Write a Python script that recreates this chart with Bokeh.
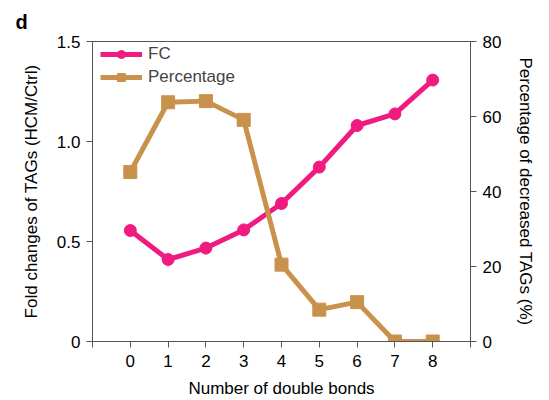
from bokeh.plotting import figure
from bokeh.models import Range1d, LinearAxis, FixedTicker, Legend, LegendItem, Title
from bokeh.embed import file_html
from bokeh.resources import INLINE

double_bonds = [0, 1, 2, 3, 4, 5, 6, 7, 8]
fc = [0.555, 0.41, 0.467, 0.558, 0.69, 0.872, 1.08, 1.138, 1.307]
percentage = [45.2, 63.8, 64.1, 59.1, 20.5, 8.5, 10.5, 0.0, 0.0]
x_ticks = [-1, 0, 1, 2, 3, 4, 5, 6, 7, 8, 9]
left_ticks = [0, 0.5, 1.0, 1.5]
left_labels = {0: "0", 0.5: "0.5", 1: "1.0", 1.5: "1.5"}
right_ticks = [0, 20, 40, 60, 80]

PINK = "#F01B80"
TAN = "#C8924C"
FONT = "Liberation Sans"
FS = "17px"
AX = "#555555"

p = figure(width=549, height=400, output_backend="svg", toolbar_location=None,
           x_range=Range1d(-1, 9), y_range=Range1d(0, 1.5),
           min_border_left=92, min_border_right=79, min_border_top=41, min_border_bottom=59)
p.grid.visible = False
p.outline_line_color = AX
p.outline_line_width = 1
p.background_fill_color = "white"
p.border_fill_color = "white"

p.extra_y_ranges = {"pct": Range1d(0, 80)}

# FC line
l1 = p.line(double_bonds, fc, line_color=PINK, line_width=5)
c1 = p.scatter(double_bonds, fc, marker="circle", size=12, fill_color=PINK, line_color=PINK)
# Percentage line
l2 = p.line(double_bonds, percentage, line_color=TAN, line_width=5, y_range_name="pct")
s2 = p.scatter(double_bonds, percentage, marker="square", size=13, fill_color=TAN, line_color=TAN,
               y_range_name="pct")

# Axes styling
for ax in [p.xaxis[0], p.yaxis[0]]:
    ax.axis_line_color = AX
    ax.major_tick_line_color = AX
    ax.minor_tick_line_color = None
    ax.major_tick_in = 0
    ax.major_tick_out = 6
    ax.major_label_text_font = FONT
    ax.major_label_text_font_size = FS
    ax.major_label_text_color = "black"
    ax.axis_label_text_font = FONT
    ax.axis_label_text_font_size = FS
    ax.axis_label_text_font_style = "normal"
    ax.axis_label_text_color = "black"

p.xaxis[0].ticker = FixedTicker(ticks=x_ticks)
p.xaxis[0].major_label_overrides = {-1: "", 9: ""}
p.xaxis[0].axis_label = "Number of double bonds"
p.xaxis[0].major_label_standoff = 7
p.xaxis[0].axis_label_standoff = 9

p.yaxis[0].ticker = FixedTicker(ticks=left_ticks)
p.yaxis[0].major_label_overrides = left_labels
p.yaxis[0].axis_label = "Fold changes of TAGs (HCM/Ctrl)"
p.yaxis[0].major_label_standoff = 6
p.yaxis[0].axis_label_standoff = 13

ra = LinearAxis(y_range_name="pct", ticker=FixedTicker(ticks=right_ticks),
                axis_label="Percentage of decreased TAGs (%)")
ra.axis_line_color = AX
ra.major_tick_line_color = AX
ra.minor_tick_line_color = None
ra.major_tick_in = 0
ra.major_tick_out = 6
ra.major_label_text_font = FONT
ra.major_label_text_font_size = FS
ra.major_label_text_color = "black"
ra.axis_label_text_font = FONT
ra.axis_label_text_font_size = FS
ra.axis_label_text_font_style = "normal"
ra.axis_label_text_color = "black"
ra.major_label_standoff = 6
ra.axis_label_standoff = 12
p.add_layout(ra, "right")

legend = Legend(items=[LegendItem(label="FC", renderers=[l1, c1]),
                       LegendItem(label="Percentage", renderers=[l2, s2])],
                location=(8, 254), border_line_color=None, background_fill_alpha=0,
                label_text_font=FONT, label_text_font_size=FS,
                glyph_width=42, glyph_height=20, spacing=3, padding=2, margin=0,
                label_standoff=6)
p.add_layout(legend)

title = Title(text="d", align="left", offset=-77, text_font=FONT, text_font_size="20px",
              text_font_style="bold", text_color="black", standoff=17)
p.add_layout(title, "above")

open("out.html", "w").write(file_html(p, INLINE))
